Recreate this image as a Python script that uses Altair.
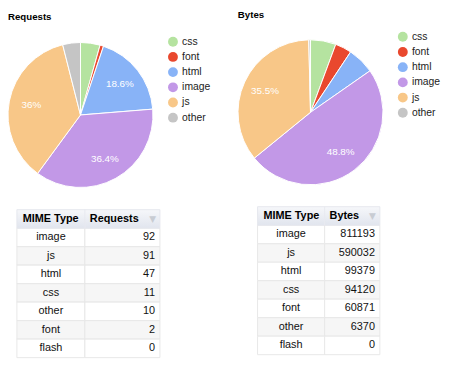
import altair as alt
import pandas as pd

# ---------------- data ----------------
pie_types = ["css", "font", "html", "image", "js", "other"]
pie_colors = ["#b5e3a0", "#e9482e", "#88b3f7", "#c298e7", "#f8c788", "#c5c5c5"]

table_types_req = ["image", "js", "html", "css", "other", "font", "flash"]
request_counts = [92, 91, 47, 11, 10, 2, 0]

table_types_bytes = ["image", "js", "html", "css", "font", "other", "flash"]
byte_counts = [811193, 590032, 99379, 94120, 60871, 6370, 0]

FONT = "Liberation Sans"
OX, OY = 8, 8  # page margin


def pie_frame(types, counts):
    d = dict(zip(types, counts))
    return pd.DataFrame({"type": pie_types, "value": [d[t] for t in pie_types]})


def pie(types, counts, title, cx, cy, r, tx, ty, lx, ly):
    df = pie_frame(types, counts)
    color = alt.Color(
        "type:N",
        scale=alt.Scale(domain=pie_types, range=pie_colors),
        legend=alt.Legend(
            title=None, orient="none", legendX=lx - OX, legendY=ly - OY,
            symbolType="circle", symbolSize=100, symbolStrokeWidth=0,
            symbolOpacity=1, labelFont=FONT, labelFontSize=10.5,
            labelColor="#222222", labelOffset=4, rowPadding=4.4, padding=0,
        ),
    )
    base = alt.Chart(df)
    arcs = base.mark_arc(outerRadius=r, stroke="white", strokeWidth=1).encode(
        theta=alt.Theta("value:Q", stack=True),
        color=color,
        order=alt.Order("type:N"),
        x=alt.value(cx - OX),
        y=alt.value(cy - OY),
    )
    labels = base.transform_joinaggregate(total="sum(value)").transform_calculate(
        lab="datum.value / datum.total > 0.1 ? format(datum.value / datum.total, '.1~%') : ''"
    ).mark_text(radius=r * 0.69, font=FONT, fontSize=10, color="white").encode(
        theta=alt.Theta("value:Q", stack=True),
        detail="type:N",
        order=alt.Order("type:N"),
        text="lab:N",
        x=alt.value(cx - OX),
        y=alt.value(cy - OY),
    )
    ttl = alt.Chart(pd.DataFrame({"t": [title]})).mark_text(
        font=FONT, fontSize=9.8, fontWeight="bold", align="left", baseline="alphabetic", color="#000"
    ).encode(text="t:N", x=alt.value(tx - OX), y=alt.value(ty - OY))
    return alt.layer(arcs, labels, ttl)


def table(types, counts, header, x0, xd, x1, y0, y1):
    rows = [{"r": 0, "name": "MIME Type", "val": header}]
    rows += [{"r": i + 1, "name": t, "val": str(v)} for i, (t, v) in enumerate(zip(types, counts))]
    df = pd.DataFrame(rows)
    base = alt.Chart(df).transform_calculate(r1="datum.r + 1", rm="datum.r + 0.5")
    ysc = alt.Scale(domain=[0, 8], range=[y0 - OY, y1 - OY], nice=False, zero=False)
    Y = lambda f: alt.Y(f, scale=ysc, axis=None)
    shade = alt.condition("datum.r % 2 == 0", alt.value("#f6f6f6"), alt.value("#ffffff"))
    body = base.transform_filter("datum.r > 0")
    head = base.transform_filter("datum.r == 0")
    c1 = body.mark_rect(stroke="#e8e8e8", strokeWidth=1).encode(
        x=alt.value(x0 - OX), x2=alt.value(xd - OX), y=Y("r:Q"), y2="r1:Q", fill=shade)
    c2 = body.mark_rect(stroke="#e8e8e8", strokeWidth=1).encode(
        x=alt.value(xd - OX), x2=alt.value(x1 - OX), y=Y("r:Q"), y2="r1:Q", fill=shade)
    grad = alt.LinearGradient(
        gradient="linear", x1=0, y1=0, x2=0, y2=1,
        stops=[alt.GradientStop(color="#f6f7fa", offset=0), alt.GradientStop(color="#e1e5ee", offset=1)],
    )
    h = head.mark_rect(fill=grad, stroke="#e6e8ee", strokeWidth=1).encode(
        x=alt.value(x0 - OX), x2=alt.value(x1 - OX), y=Y("r:Q"), y2="r1:Q")
    hd = head.mark_rule(color="#e8eaf0").encode(
        x=alt.value(xd - OX), y=Y("r:Q"), y2="r1:Q")
    ht1 = head.mark_text(font=FONT, fontSize=11, fontWeight="bold", align="left", color="#000").encode(
        x=alt.value(x0 - OX + 6), y=Y("rm:Q"), text="name:N")
    ht2 = head.mark_text(font=FONT, fontSize=11, fontWeight="bold", align="left", color="#000").encode(
        x=alt.value(xd - OX + 5), y=Y("rm:Q"), text="val:N")
    arrow = head.transform_calculate(a="'▼'").mark_text(
        font="DejaVu Sans", fontSize=9, align="right", color="#c8ccd3").encode(
        x=alt.value(x1 - OX - 4), y=Y("rm:Q"), text="a:N")
    t1 = body.mark_text(font=FONT, fontSize=11, align="center", color="#111").encode(
        x=alt.value((x0 + xd) / 2 - OX), y=Y("rm:Q"), text="name:N")
    t2 = body.mark_text(font=FONT, fontSize=11, align="right", color="#111").encode(
        x=alt.value(x1 - OX - 5), y=Y("rm:Q"), text="val:N")
    return alt.layer(c1, c2, h, hd, ht1, ht2, arrow, t1, t2)


left_pie = pie(table_types_req, request_counts, "Requests", 81.5, 114, 73.5, 8, 17.5, 170, 34.5)
right_pie = pie(table_types_bytes, byte_counts, "Bytes", 314.7, 111.3, 73.5, 241, 15.8, 403, 29.5)
left_tab = table(table_types_req, request_counts, "Requests", 17, 86, 162, 210, 360)
right_tab = table(table_types_bytes, byte_counts, "Bytes", 261, 329, 385, 207, 357)

chart = alt.layer(left_pie, right_pie, left_tab, right_tab).resolve_scale(
    theta="independent", color="independent", y="independent", x="independent"
).properties(
    width=440, height=355, padding=0, autosize="none", background="white"
).configure_view(stroke=None)

chart.save("out.html", embed_options={"renderer": "svg", "actions": False})
